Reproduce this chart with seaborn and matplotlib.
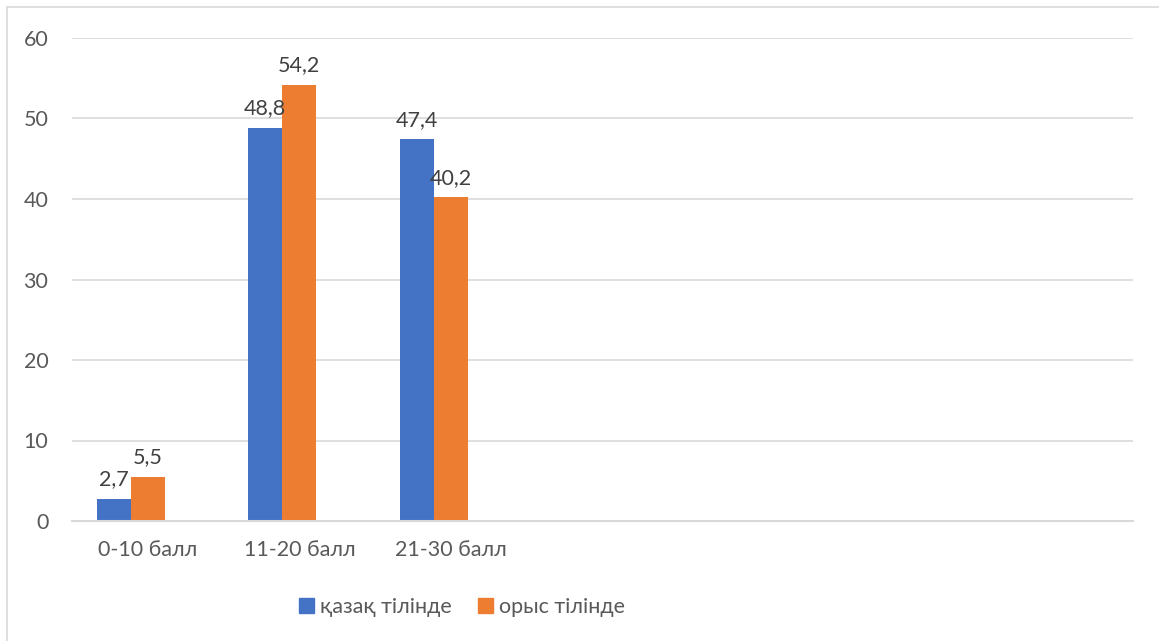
import matplotlib.pyplot as plt
import pandas as pd
import seaborn as sns
from matplotlib.lines import Line2D

# chart data
categories = ["0-10 балл", "11-20 балл", "21-30 балл", "c4", "c5", "c6", "c7"]
tick_labels = ["0-10 балл", "11-20 балл", "21-30 балл", "", "", "", ""]
kazakh = [2.7, 48.8, 47.4]
russian = [5.5, 54.2, 40.2]
series = ["қазақ тілінде", "орыс тілінде", "Ряд 3"]

rows = []
for c, v in zip(categories, kazakh):
    rows.append({"cat": c, "series": series[0], "value": v})
for c, v in zip(categories, russian):
    rows.append({"cat": c, "series": series[1], "value": v})
df = pd.DataFrame(rows)

sns.set_style("white")
plt.rcParams["font.family"] = ["Lato", "DejaVu Sans"]
text_color = "#595959"
grid_color = "#D9D9D9"
fs = 15.5

fig = plt.figure(figsize=(11.59, 6.41), dpi=100)
ax = fig.add_axes([72 / 1159, 1 - 521 / 641, (1133 - 72) / 1159, (521 - 38) / 641])

sns.barplot(data=df, x="cat", y="value", hue="series", order=categories,
            hue_order=series, palette=["#4472C4", "#ED7D31", "#A5A5A5"],
            width=0.675, ax=ax, legend=False, saturation=1, linewidth=0)

for cont in ax.containers:
    ax.bar_label(cont, labels=[f"{b.get_height():.1f}".replace(".", ",") for b in cont],
                 padding=7, fontsize=fs, color="#404040")

ax.set_ylim(0, 60)
ax.set_yticks(range(0, 61, 10))
ax.set_xlim(-0.5, len(categories) - 0.5)
ax.set_xticks(range(len(categories)))
ax.set_xticklabels(tick_labels)
ax.set_xlabel("")
ax.set_ylabel("")
ax.yaxis.grid(True, color=grid_color, linewidth=1.2)
ax.set_axisbelow(True)
for s in ["top", "left", "right"]:
    ax.spines[s].set_visible(False)
ax.spines["bottom"].set_color(grid_color)
ax.spines["bottom"].set_linewidth(1.5)
ax.tick_params(axis="y", length=0, pad=17, labelsize=fs, labelcolor=text_color)
ax.tick_params(axis="x", length=0, pad=14, labelsize=fs, labelcolor=text_color)

handles = [plt.Rectangle((0, 0), 1, 1, color="#4472C4"),
           plt.Rectangle((0, 0), 1, 1, color="#ED7D31")]
leg = fig.legend(handles, series[:2], loc="center", bbox_to_anchor=(462 / 1159, 1 - 607 / 641),
                 ncol=2, frameon=False, fontsize=fs, handlelength=0.7, handleheight=0.7,
                 handletextpad=0.3, columnspacing=1.2)
for t in leg.get_texts():
    t.set_color(text_color)

# chart border
fig.add_artist(Line2D([7 / 1159, 1], [1 - 7 / 641, 1 - 7 / 641], color=grid_color, lw=1.2))
fig.add_artist(Line2D([7 / 1159, 7 / 1159], [0, 1 - 7 / 641], color=grid_color, lw=1.2))

fig.savefig("out.png", dpi=100)
